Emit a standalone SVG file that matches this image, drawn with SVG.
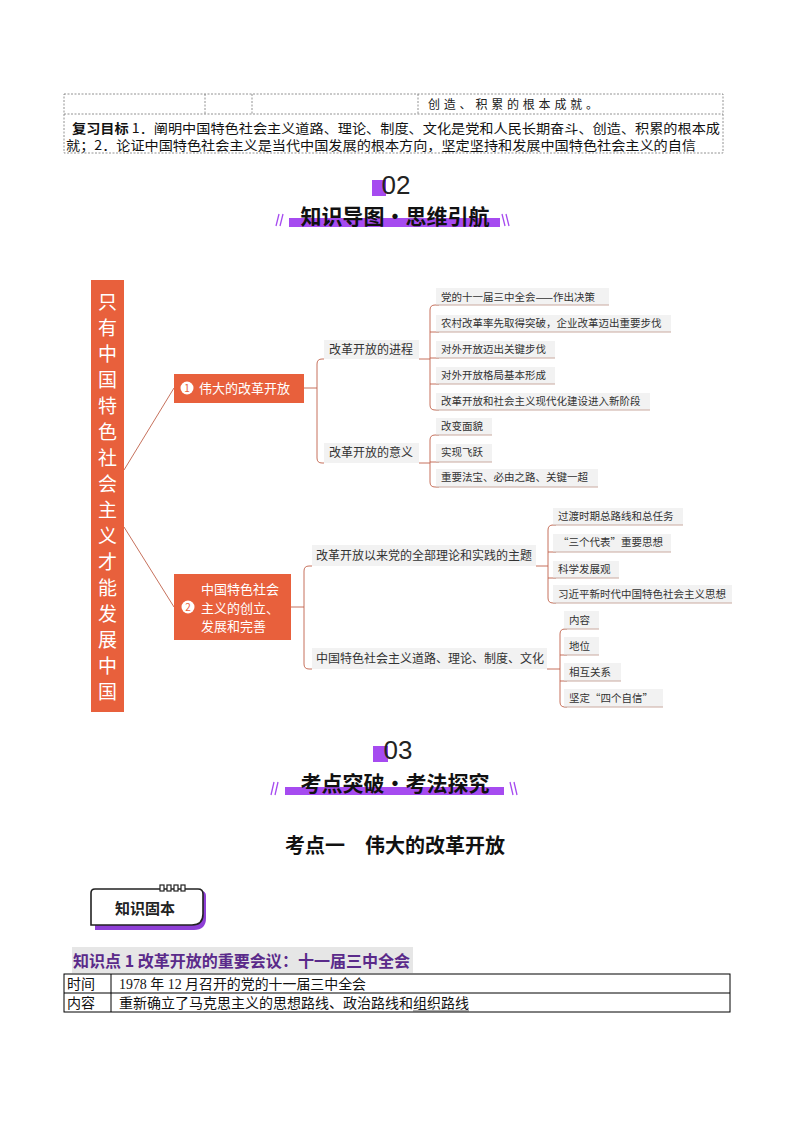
<svg xmlns="http://www.w3.org/2000/svg" width="794" height="1123" viewBox="0 0 794 1123">
<style>
text{font-family:"Noto Sans CJK SC","Noto Sans",sans-serif;}
.dt{fill:none;stroke:#777;stroke-width:0.8;stroke-dasharray:2,1.5}
.cn{fill:none;stroke:#C0614A;stroke-width:0.9}
.lf{fill:#F2F2F2}
.ul{stroke:#C9A9A0;stroke-width:1.2}
.lt{font-size:10.5px;fill:#333}
.bt{font-size:12px;fill:#333}
.nw{fill:#fff}
.pu{fill:#A64BF0}
.hd{font-size:21px;font-weight:bold;fill:#111;text-anchor:middle}
.num{font-family:"Liberation Sans",sans-serif;font-size:26px;fill:#222;text-anchor:middle}
.sl{stroke:#A64BF0;stroke-width:1.3}
.serif{font-family:"Liberation Serif","Noto Sans CJK SC",serif;}
</style>
<rect width="794" height="1123" fill="#fff"/>
<g id="top-table">
<rect class="dt" x="64" y="94" width="659" height="59"/>
<line class="dt" x1="64" y1="114" x2="723" y2="114"/>
<line class="dt" x1="205" y1="94" x2="205" y2="114"/>
<line class="dt" x1="252" y1="94" x2="252" y2="114"/>
<line class="dt" x1="418" y1="94" x2="418" y2="114"/>
<text x="428" y="109" font-size="12" fill="#222" textLength="170" lengthAdjust="spacing">创造、积累的根本成就。</text>
<text x="72" y="133" font-size="13" fill="#111" textLength="648" lengthAdjust="spacingAndGlyphs"><tspan font-weight="bold">复习目标</tspan> 1．阐明中国特色社会主义道路、理论、制度、文化是党和人民长期奋斗、创造、积累的根本成</text>
<text x="66" y="150" font-size="13" fill="#111" textLength="630" lengthAdjust="spacingAndGlyphs">就；2．论证中国特色社会主义是当代中国发展的根本方向，坚定坚持和发展中国特色社会主义的自信</text>
</g>
<g id="header-02">
<rect class="pu" x="372" y="180" width="14" height="16"/>
<text class="num" x="396" y="194">02</text>
<rect class="pu" x="289" y="218" width="211" height="9"/>
<text class="hd" x="395" y="224">知识导图·思维引航</text>
<line class="sl" x1="276" y1="226" x2="279" y2="214"/><line class="sl" x1="280" y1="226" x2="283" y2="214"/>
<line class="sl" x1="502" y1="214" x2="505" y2="226"/><line class="sl" x1="506" y1="214" x2="509" y2="226"/>
</g>
<g id="connectors">
<path class="cn" d="M124,470 L174,388"/>
<path class="cn" d="M124,527 L174,607"/>
<path class="cn" d="M304,388 H317 M324,359 H322 Q317,359 317,364 V458 Q317,463 322,463 H324"/>
<path class="cn" d="M419,359 H430 M430,359 V310 Q430,305 435,305 H439 M430,359 V405 Q430,410 435,410 H439 M430,332 H439 M430,358 H439 M430,384 H439"/>
<path class="cn" d="M419,463 H430 M430,463 V440 Q430,435 435,435 H439 M430,463 V482 Q430,487 435,487 H439 M430,462 H439"/>
<path class="cn" d="M291,607 H304 M312,566 H309 Q304,566 304,571 V664 Q304,669 309,669 H312"/>
<path class="cn" d="M536,566 H548 M548,566 V530 Q548,525 553,525 H556 M548,566 V598 Q548,603 553,603 H556 M548,552 H556 M548,578 H556"/>
<path class="cn" d="M547,669 H560 M560,669 V634 Q560,629 565,629 H567 M560,669 V702 Q560,707 565,707 H567 M560,655 H567 M560,681 H567"/>
</g>
<g id="root">
<rect x="91" y="280" width="33" height="432" fill="#E8603C"/>
<text font-size="19" fill="#fff" text-anchor="middle">
<tspan x="107.5" y="309">只</tspan><tspan x="107.5" y="335">有</tspan><tspan x="107.5" y="361">中</tspan><tspan x="107.5" y="387">国</tspan><tspan x="107.5" y="413">特</tspan><tspan x="107.5" y="439">色</tspan><tspan x="107.5" y="465">社</tspan><tspan x="107.5" y="491">会</tspan><tspan x="107.5" y="517">主</tspan><tspan x="107.5" y="543">义</tspan><tspan x="107.5" y="569">才</tspan><tspan x="107.5" y="595">能</tspan><tspan x="107.5" y="621">发</tspan><tspan x="107.5" y="647">展</tspan><tspan x="107.5" y="673">中</tspan><tspan x="107.5" y="699">国</tspan>
</text>
</g>
<g id="node1">
<rect x="174" y="374" width="130" height="29" fill="#E8603C"/>
<circle cx="187" cy="388" r="6.5" fill="#fff"/>
<text x="187" y="392" font-size="10" fill="#E8603C" text-anchor="middle">1</text>
<text x="199" y="393" font-size="13" class="nw">伟大的改革开放</text>
</g>
<g id="node2">
<rect x="174" y="574" width="117" height="66" fill="#E8603C"/>
<circle cx="188" cy="607" r="6.5" fill="#fff"/>
<text x="188" y="611" font-size="10" fill="#E8603C" text-anchor="middle">2</text>
<text font-size="13" class="nw"><tspan x="201" y="594">中国特色社会</tspan><tspan x="201" y="613">主义的创立、</tspan><tspan x="201" y="631">发展和完善</tspan></text>
</g>
<g id="label1"><rect class="lf" x="324" y="340" width="95" height="19"/><text class="bt" x="329" y="354">改革开放的进程</text></g>
<g id="label2"><rect class="lf" x="324" y="443" width="95" height="20"/><text class="bt" x="329" y="457">改革开放的意义</text></g>
<g id="label3"><rect class="lf" x="312" y="545" width="224" height="21"/><text class="bt" x="316" y="560">改革开放以来党的全部理论和实践的主题</text></g>
<g id="label4"><rect class="lf" x="312" y="648" width="235" height="21"/><text class="bt" x="316" y="663">中国特色社会主义道路、理论、制度、文化</text></g>
<g id="leaf1"><rect class="lf" x="436" y="288" width="173" height="17"/><line class="ul" x1="436" y1="305" x2="609" y2="305"/><text class="lt" x="441" y="301">党的十一届三中全会——作出决策</text></g>
<g id="leaf2"><rect class="lf" x="436" y="315" width="235" height="17"/><line class="ul" x1="436" y1="332" x2="671" y2="332"/><text class="lt" x="441" y="327">农村改革率先取得突破，企业改革迈出重要步伐</text></g>
<g id="leaf3"><rect class="lf" x="436" y="341" width="119" height="17"/><line class="ul" x1="436" y1="358" x2="555" y2="358"/><text class="lt" x="441" y="353">对外开放迈出关键步伐</text></g>
<g id="leaf4"><rect class="lf" x="436" y="367" width="119" height="17"/><line class="ul" x1="436" y1="384" x2="555" y2="384"/><text class="lt" x="441" y="379">对外开放格局基本形成</text></g>
<g id="leaf5"><rect class="lf" x="436" y="393" width="214" height="17"/><line class="ul" x1="436" y1="410" x2="650" y2="410"/><text class="lt" x="441" y="405">改革开放和社会主义现代化建设进入新阶段</text></g>
<g id="leaf6"><rect class="lf" x="436" y="418" width="56" height="17"/><line class="ul" x1="436" y1="435" x2="492" y2="435"/><text class="lt" x="441" y="430">改变面貌</text></g>
<g id="leaf7"><rect class="lf" x="436" y="444" width="56" height="18"/><line class="ul" x1="436" y1="462" x2="492" y2="462"/><text class="lt" x="441" y="456">实现飞跃</text></g>
<g id="leaf8"><rect class="lf" x="436" y="469" width="162" height="18"/><line class="ul" x1="436" y1="487" x2="598" y2="487"/><text class="lt" x="441" y="481">重要法宝、必由之路、关键一超</text></g>
<g id="leaf9"><rect class="lf" x="553" y="508" width="130" height="17"/><line class="ul" x1="553" y1="525" x2="683" y2="525"/><text class="lt" x="558" y="520">过渡时期总路线和总任务</text></g>
<g id="leaf10"><rect class="lf" x="553" y="534" width="118" height="18"/><line class="ul" x1="553" y1="552" x2="671" y2="552"/><text class="lt" x="558" y="546">“三个代表”重要思想</text></g>
<g id="leaf11"><rect class="lf" x="553" y="561" width="66" height="17"/><line class="ul" x1="553" y1="578" x2="619" y2="578"/><text class="lt" x="558" y="573">科学发展观</text></g>
<g id="leaf12"><rect class="lf" x="553" y="585" width="179" height="18"/><line class="ul" x1="553" y1="603" x2="732" y2="603"/><text class="lt" x="558" y="598">习近平新时代中国特色社会主义思想</text></g>
<g id="leaf13"><rect class="lf" x="564" y="611" width="35" height="18"/><line class="ul" x1="564" y1="629" x2="599" y2="629"/><text class="lt" x="569" y="624">内容</text></g>
<g id="leaf14"><rect class="lf" x="564" y="637" width="35" height="18"/><line class="ul" x1="564" y1="655" x2="599" y2="655"/><text class="lt" x="569" y="650">地位</text></g>
<g id="leaf15"><rect class="lf" x="564" y="663" width="57" height="18"/><line class="ul" x1="564" y1="681" x2="621" y2="681"/><text class="lt" x="569" y="676">相互关系</text></g>
<g id="leaf16"><rect class="lf" x="564" y="689" width="99" height="18"/><line class="ul" x1="564" y1="707" x2="663" y2="707"/><text class="lt" x="569" y="702">坚定“四个自信”</text></g>
<g id="header-03">
<rect class="pu" x="373" y="746" width="15" height="16"/>
<text class="num" x="398" y="759">03</text>
<rect class="pu" x="285" y="787" width="219" height="8"/>
<text class="hd" x="395" y="791">考点突破·考法探究</text>
<line class="sl" x1="271" y1="795" x2="274" y2="782"/><line class="sl" x1="275" y1="795" x2="278" y2="782"/>
<line class="sl" x1="510" y1="782" x2="513" y2="795"/><line class="sl" x1="514" y1="782" x2="517" y2="795"/>
</g>
<text x="395" y="853" font-size="20" font-weight="bold" fill="#111" text-anchor="middle" xml:space="preserve">考点一　伟大的改革开放</text>
<g id="badge">
<path d="M95,895 Q95,891 99,891 H201 Q206,891 206,896 V918 Q206,930 194,930 H95 Z" fill="#8E3FD6"/>
<path d="M91,893 Q91,889 95,889 H198 Q203,889 203,894 V914 Q203,925 192,925 H91 Z" fill="#fff" stroke="#222" stroke-width="1.6"/>
<g fill="#fff" stroke="#222" stroke-width="1.2"><rect x="160" y="885" width="4" height="6"/><rect x="167" y="885" width="4" height="6"/><rect x="174" y="885" width="4" height="6"/><rect x="181" y="885" width="4" height="6"/></g>
<text x="145" y="914" font-size="15" font-weight="bold" fill="#222" text-anchor="middle">知识固本</text>
</g>
<g id="kp1">
<rect x="72" y="947" width="341" height="26" fill="#E6E6E6"/>
<text x="73" y="967" font-size="16" font-weight="bold" fill="#5A2A8A" textLength="337" lengthAdjust="spacingAndGlyphs">知识点 1  改革开放的重要会议：十一届三中全会</text>
</g>
<g id="kp-table">
<rect x="64" y="974" width="666" height="38" fill="none" stroke="#000" stroke-width="1"/>
<line x1="64" y1="993" x2="730" y2="993" stroke="#000" stroke-width="1"/>
<line x1="111" y1="974" x2="111" y2="1012" stroke="#000" stroke-width="1"/>
<text x="67" y="989" font-size="14" fill="#111">时间</text>
<text x="67" y="1008" font-size="14" fill="#111">内容</text>
<text class="serif" x="119" y="989" font-size="14" fill="#111" textLength="247" lengthAdjust="spacingAndGlyphs">1978 年 12 月召开的党的十一届三中全会</text>
<text x="119" y="1008" font-size="14" fill="#111" textLength="350" lengthAdjust="spacingAndGlyphs">重新确立了马克思主义的思想路线、政治路线和组织路线</text>
<line x1="413" y1="1011" x2="469" y2="1011" stroke="#555" stroke-width="1"/>
</g>
</svg>
